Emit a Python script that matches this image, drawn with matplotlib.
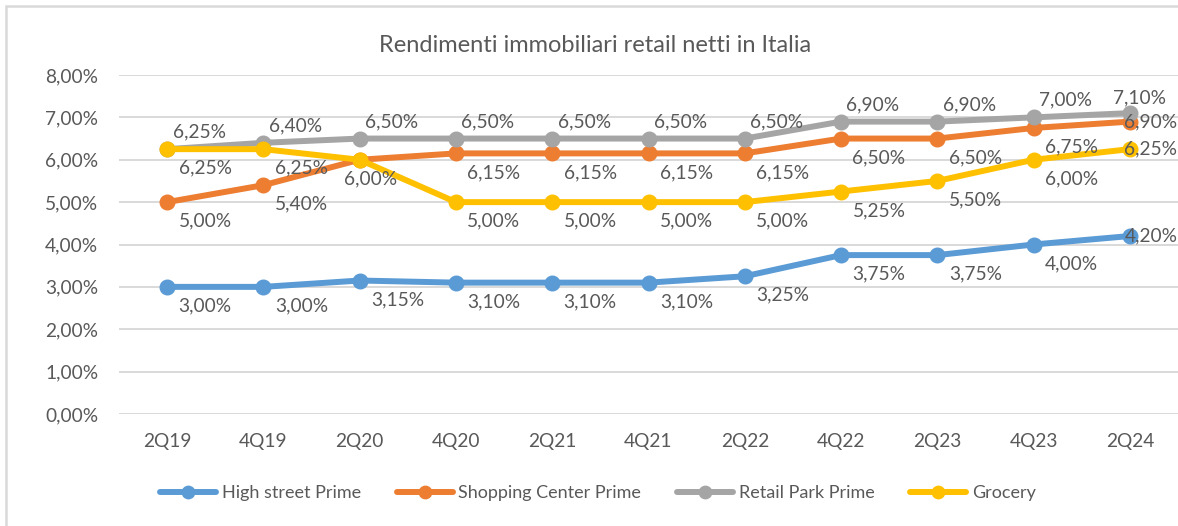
import matplotlib
matplotlib.use("Agg")
import matplotlib.pyplot as plt
from matplotlib.ticker import FuncFormatter, MultipleLocator
from matplotlib.patches import Rectangle

plt.rcParams["font.family"] = ["Lato", "DejaVu Sans"]

## data
quarters = ["2Q19", "4Q19", "2Q20", "4Q20", "2Q21", "4Q21", "2Q22", "4Q22", "2Q23", "4Q23", "2Q24"]
high_street = [3.00, 3.00, 3.15, 3.10, 3.10, 3.10, 3.25, 3.75, 3.75, 4.00, 4.20]
shopping_center = [5.00, 5.40, 6.00, 6.15, 6.15, 6.15, 6.15, 6.50, 6.50, 6.75, 6.90]
retail_park = [6.25, 6.40, 6.50, 6.50, 6.50, 6.50, 6.50, 6.90, 6.90, 7.00, 7.10]
grocery = [6.25, 6.25, 6.00, 5.00, 5.00, 5.00, 5.00, 5.25, 5.50, 6.00, 6.25]
series_names = ["High street Prime", "Shopping Center Prime", "Retail Park Prime", "Grocery"]

colors = ["#5B9BD5", "#ED7D31", "#A5A5A5", "#FFC000"]
text_col = "#595959"
grid_col = "#D9D9D9"

def pct(v):
    return f"{v:.2f}%".replace(".", ",")

fig = plt.figure(figsize=(11.78, 5.26), dpi=100)
ax = fig.add_axes([119 / 1178, 1 - 414 / 526, 1 - 119 / 1178, (414 - 75) / 526])

x = list(range(len(quarters)))
all_series = [high_street, shopping_center, retail_park, grocery]
for k, (vals, name) in enumerate(zip(all_series, series_names)):
    ax.plot(x, vals, color=colors[k], lw=4.3, marker="o", markersize=10.5,
            label=name, solid_capstyle="round", zorder=3 + k)
    last = len(vals) - 1
    for i, v in enumerate(vals):
        ## label offsets in pixels (Excel-ish placement)
        if k == 2:
            dx, dy = (10, 15) if i == last else (32, 17)
        else:
            dx, dy = (21, 0) if i == last else (38, -19)
        if i == 2 and k in (1, 3):
            if k == 1:
                continue  # same spot as grocery label, only one shows
            dx = 11
        ax.annotate(pct(v), (i, v), xytext=(dx * 0.72, dy * 0.72), textcoords="offset points",
                    ha="center", va="center", fontsize=13.8, color=text_col, zorder=10)

ax.set_xlim(-0.5, len(quarters) - 0.5)
ax.set_ylim(0, 8)
ax.yaxis.set_major_locator(MultipleLocator(1))
ax.yaxis.set_major_formatter(FuncFormatter(lambda v, p: pct(v)))
ax.set_xticks(x)
ax.set_xticklabels(quarters)
ax.tick_params(axis="both", length=0, labelsize=13.8, colors=text_col)
ax.tick_params(axis="y", pad=15)
ax.tick_params(axis="x", pad=14)
ax.grid(axis="y", color=grid_col, lw=1.4)
ax.set_axisbelow(True)
for s in ax.spines.values():
    s.set_visible(False)

fig.text(595 / 1178, 1 - 45 / 526, "Rendimenti immobiliari retail netti in Italia",
         ha="center", va="center", fontsize=17, color=text_col)

fig.legend(loc="center", bbox_to_anchor=(598 / 1178, 1 - 493 / 526), ncol=4, frameon=False,
           fontsize=13, labelcolor=text_col, handlelength=3.1, handletextpad=0.3,
           columnspacing=2.0, markerscale=0.85)

## chart border
fig.patches.append(Rectangle((6 / 1178, -0.1), 1.2, 1 - 6 / 526 + 0.1, transform=fig.transFigure,
                             fill=False, edgecolor=grid_col, lw=1.8))

fig.savefig("out.png", dpi=100)
